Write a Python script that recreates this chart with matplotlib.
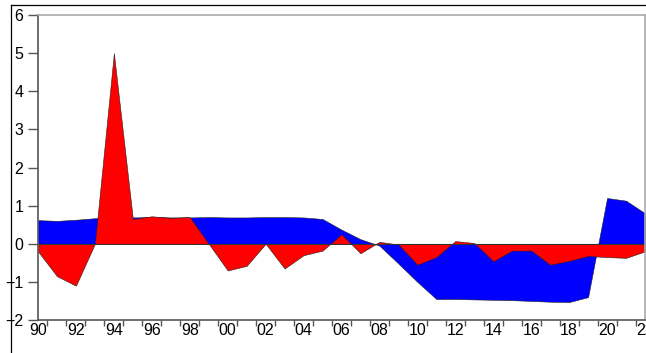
import numpy as np
import matplotlib.pyplot as plt
from matplotlib.lines import Line2D

years = np.arange(1990, 2023)
red_vals = [-0.2, -0.85, -1.1, 0.0, 5.0, 0.65, 0.72, 0.68, 0.7, 0.0,
            -0.7, -0.58, 0.0, -0.65, -0.3, -0.18, 0.25, -0.25, 0.05, -0.02,
            -0.55, -0.35, 0.07, 0.02, -0.46, -0.18, -0.18, -0.55, -0.45, -0.32,
            -0.35, -0.37, -0.2]
blue_vals = [0.62, 0.6, 0.63, 0.67, 0.68, 0.69, 0.7, 0.69, 0.69, 0.7,
             0.69, 0.69, 0.7, 0.7, 0.69, 0.65, 0.37, 0.12, -0.05, -0.52,
             -1.0, -1.45, -1.45, -1.46, -1.47, -1.48, -1.5, -1.52, -1.53, -1.4,
             1.2, 1.13, 0.8]
tick_labels = ['90', '92', '94', '96', '98', '00', '02', '04', '06', '08',
               '10', '12', '14', '16', '18', '20', '22']

plt.rcParams['font.family'] = ['Liberation Sans', 'DejaVu Sans']
fig = plt.figure(figsize=(6.46, 3.53), dpi=100)
ax = fig.add_axes([38 / 646, 33 / 353, 607 / 646, 305 / 353])

ax.fill_between(years, 0, blue_vals, color='#0000ff', edgecolor='#222222', linewidth=0.4)
ax.fill_between(years, 0, red_vals, color='#ff0000', edgecolor='#222222', linewidth=0.4)
ax.axhline(0, color='#333333', linewidth=0.7)

ax.set_xlim(1990, 2021.95)
ax.set_ylim(-2, 6)
ax.set_xticks(np.arange(1990, 2023, 2))
ax.set_xticklabels(tick_labels)
ax.set_xticks(np.arange(1990.5, 2022, 1), minor=True)
ax.tick_params(axis='x', which='major', length=0, pad=2, labelsize=11.5)
ax.tick_params(axis='x', which='minor', length=4, width=1, color='#555555', direction='out')
ax.set_yticks(range(-2, 7))
ax.tick_params(axis='y', length=7, width=1, color='#555555', pad=3.5, labelsize=11.5)

for s in ['left', 'bottom']:
    ax.spines[s].set_color('#555555')
    ax.spines[s].set_linewidth(1.2)
for s in ['top', 'right']:
    ax.spines[s].set_color('#aaaaaa')
    ax.spines[s].set_linewidth(1.2)

fig.add_artist(Line2D([11 / 646, 11 / 646], [0, 348 / 353], color='black', linewidth=0.9))
fig.add_artist(Line2D([11 / 646, 1], [348 / 353, 348 / 353], color='black', linewidth=0.9))

fig.savefig('out.png', dpi=100)
